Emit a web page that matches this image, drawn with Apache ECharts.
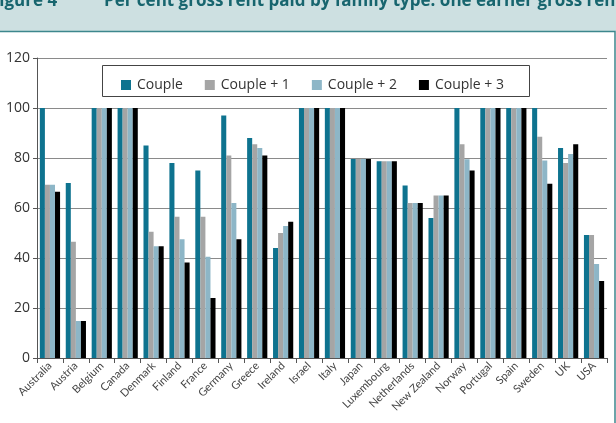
<!DOCTYPE html>
<html lang="en">
<head>
    <meta charset="UTF-8">
    <title>gross_rent_family_type</title>
    <script src="https://cdn.jsdelivr.net/npm/echarts@6/dist/echarts.min.js"></script>
    <style>
        html, body { margin: 0; padding: 0; background: #fff; }
        #main { width: 616px; height: 423px; }
    </style>
</head>
<body>
<div id="main"></div>
<script>
    // 数据
    var countries = ['Australia', 'Austria', 'Belgium', 'Canada', 'Denmark', 'Finland', 'France', 'Germany',
        'Greece', 'Ireland', 'Israel', 'Italy', 'Japan', 'Luxembourg', 'Netherlands', 'New Zealand',
        'Norway', 'Portugal', 'Spain', 'Sweden', 'UK', 'USA'];
    var couple   = [100, 70, 100, 100, 85, 78, 75, 97, 88, 44, 100, 100, 79.6, 78.7, 69, 56, 100, 100, 100, 100, 84, 49.2];
    var couple1  = [69.3, 46.5, 100, 100, 50.5, 56.5, 56.5, 81, 85.5, 50, 100, 100, 79.6, 78.7, 62, 65, 85.5, 100, 100, 88.5, 78, 49.2];
    var couple2  = [69.3, 14.8, 100, 100, 44.7, 47.5, 40.5, 62, 84, 52.8, 100, 100, 79.6, 78.7, 62, 65, 79.5, 100, 100, 79, 81.6, 37.6];
    var couple3  = [66.5, 14.8, 100, 100, 44.7, 38.2, 24, 47.5, 81, 54.5, 100, 100, 79.6, 78.7, 62, 65, 75, 100, 100, 69.7, 85.5, 30.8];
    var seriesNames = ['Couple', 'Couple + 1', 'Couple + 2', 'Couple + 3'];
    var yTicks = [0, 20, 40, 60, 80, 100, 120];

    var colors = ['#0e738f', '#a5a5a5', '#8db6c7', '#000000'];
    var font = '"Open Sans", sans-serif';

    var chart = echarts.init(document.getElementById('main'));

    function bar(name, data) {
        return {
            name: name,
            type: 'bar',
            data: data,
            barGap: '0%',
            barCategoryGap: '22%'
        };
    }

    chart.setOption({
        animation: false,
        color: colors,
        textStyle: { fontFamily: font },
        graphic: [
            // 标题栏
            { type: 'rect', shape: { x: 0, y: 0, width: 616, height: 31 }, style: { fill: '#cde0e1' }, z: -10 },
            { type: 'rect', shape: { x: -2, y: 31.5, width: 617, height: 500 },
              style: { fill: 'none', stroke: '#3d878d', lineWidth: 1.5 }, z: -9 },
            { type: 'text', x: -10, y: 10, style: { text: 'Figure 4', font: 'bold 17px "Open Sans"', fill: '#17656e', verticalAlign: 'bottom' } },
            { type: 'text', x: 104, y: 10, style: { text: 'Per cent gross rent paid by family type: one earner gross rent', font: 'bold 17px "Open Sans"', fill: '#17656e', verticalAlign: 'bottom' } },
            // 图例框
            { type: 'rect', shape: { x: 102.5, y: 65.5, width: 427, height: 31 },
              style: { fill: '#fff', stroke: '#444', lineWidth: 1 }, z: 1 }
        ],
        legend: {
            data: seriesNames,
            left: 116,
            top: 73,
            itemWidth: 10,
            itemHeight: 10,
            itemGap: 22,
            icon: 'rect',
            textStyle: { fontSize: 14, color: '#333', fontFamily: font, padding: [0, 0, 0, 1] },
            z: 5
        },
        grid: { left: 37, right: 9, top: 58, bottom: 65, containLabel: false },
        xAxis: {
            type: 'category',
            data: countries,
            axisLine: { lineStyle: { color: '#555', width: 1 } },
            axisTick: { show: true, alignWithLabel: false, length: 5, lineStyle: { color: '#555' } },
            axisLabel: { rotate: 45, fontSize: 11, color: '#444', margin: 6, interval: 0, fontFamily: 'Lato, sans-serif' }
        },
        yAxis: {
            type: 'value',
            min: yTicks[0],
            max: yTicks[yTicks.length - 1],
            interval: 20,
            axisLine: { show: true, lineStyle: { color: '#555', width: 1 } },
            axisTick: { show: true, length: 4, lineStyle: { color: '#555' } },
            axisLabel: { fontSize: 14, color: '#333', margin: 7, fontFamily: font },
            splitLine: { lineStyle: { color: '#8a8a8a', width: 1 } }
        },
        series: [
            bar(seriesNames[0], couple),
            bar(seriesNames[1], couple1),
            bar(seriesNames[2], couple2),
            bar(seriesNames[3], couple3)
        ]
    });
</script>
</body>
</html>
